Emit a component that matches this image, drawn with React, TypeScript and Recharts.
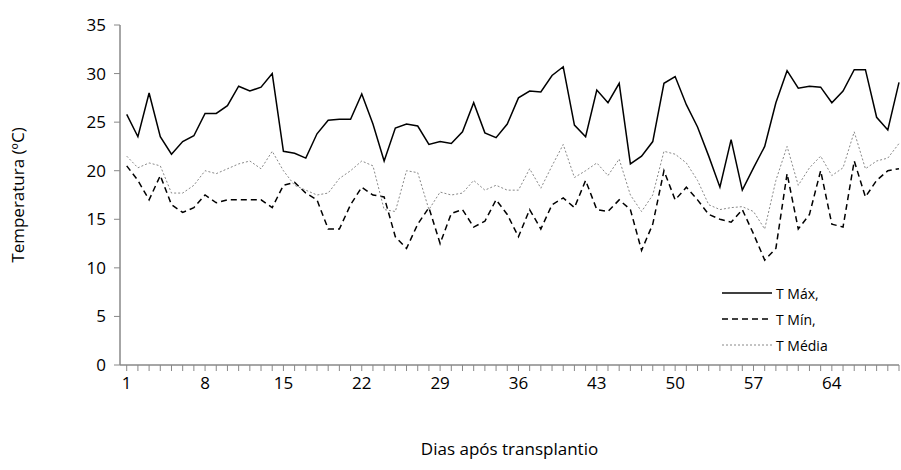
import React from 'react';
import { LineChart, Line, XAxis, YAxis, Label } from 'recharts';

const tMax = [25.8,23.5,28,23.5,21.7,23,23.6,25.9,25.9,26.7,
28.7,28.2,28.6,30,22,21.8,21.3,23.8,25.2,25.3,
25.3,27.9,24.8,21,24.4,24.8,24.6,22.7,23,22.8,
24,27,23.9,23.4,24.8,27.5,28.2,28.1,29.8,30.7,
24.7,23.5,28.3,27,29,20.7,21.5,23,29,29.7,
26.8,24.5,21.5,18.3,23.2,18,20.3,22.5,27,30.3,
28.5,28.7,28.6,27,28.2,30.4,30.4,25.5,24.2,29.1];
const tMin = [20.5,19,17,19.5,16.5,15.7,16.2,17.5,16.7,17,
17,17,17,16.2,18.5,18.8,17.7,17,14,14,
16.5,18.3,17.5,17.3,13.2,12,14.5,16.2,12.5,15.6,
16,14.2,14.8,17,15.5,13.2,16,14,16.5,17.2,
16.2,19,16,15.8,17,16,11.8,14.5,20,17,
18.3,17,15.5,15,14.7,16,13.5,10.8,12,19.7,
14,15.5,20,14.5,14.2,21,17.3,19,20,20.2];
const tMedia = [21.5,20.3,20.8,20.5,17.7,17.7,18.5,20,19.7,20.2,
20.7,21,20.2,22,20,18.5,18,17.5,17.7,19.2,
20,21,20.5,16,15.8,20,19.8,16,17.8,17.5,
17.7,19,18,18.5,18,18,20.2,18.2,20.5,22.7,
19.3,20,20.8,19.5,21.2,17.5,15.8,17.5,22,21.7,
20.8,19,16.5,16,16.2,16.3,15.8,14,19,22.5,
18.5,20.3,21.5,19.5,20.3,24,20.2,21,21.3,22.8];
const labeledDays = [1, 8, 15, 22, 29, 36, 43, 50, 57, 64];
const yTicks = [0, 5, 10, 15, 20, 25, 30, 35];

const data = tMax.map((v, i) => ({ day: i + 1, tMax: v, tMin: tMin[i], tMedia: tMedia[i] }));
const allDays = data.map(d => d.day);
const font = "'Open Sans', 'Liberation Sans', sans-serif";

const legendItems = [
  { name: 'T Máx,', dash: undefined, color: '#000', w: 1.5 },
  { name: 'T Mín,', dash: '6 4', color: '#000', w: 1.5 },
  { name: 'T Média', dash: '2 2', color: '#888', w: 1 },
];

export default function App() {
  return (
    <div style={{ position: 'absolute', left: 0, top: 0, width: 901, height: 470, background: '#fff', fontFamily: font }}>
      <LineChart width={901} height={470} data={data} margin={{ top: 25, right: 2, bottom: 65, left: 60 }}>
        <XAxis dataKey="day" type="number" domain={[0.4, 70]} ticks={allDays} interval={0}
          tickFormatter={(v: number) => (labeledDays.includes(v) ? String(v) : '')}
          axisLine={{ stroke: '#888', strokeWidth: 1.5 }} tickLine={{ stroke: '#888' }} tickSize={6}
          tick={{ fill: '#000', fontSize: 17, fontFamily: font }} height={40} tickMargin={6}>
          <Label value="Dias após transplantio" position="insideBottom" offset={-50} style={{ fill: '#000', fontSize: 17, fontFamily: font }} />
        </XAxis>
        <YAxis domain={[0, 35]} ticks={yTicks} interval={0} width={60}
          axisLine={{ stroke: '#888', strokeWidth: 1.5 }} tickLine={{ stroke: '#888' }} tickSize={6}
          tick={{ fill: '#000', fontSize: 17, fontFamily: font }} tickMargin={8}>
          <Label value="Temperatura (ºC)" angle={-90} position="insideLeft" offset={-42} dy={0}
            style={{ fill: '#000', fontSize: 17, fontFamily: font, textAnchor: 'middle' }} />
        </YAxis>
        <Line dataKey="tMax" stroke="#000" strokeWidth={1.5} dot={false} isAnimationActive={false} />
        <Line dataKey="tMin" stroke="#000" strokeWidth={1.5} strokeDasharray="6 4" dot={false} isAnimationActive={false} />
        <Line dataKey="tMedia" stroke="#888" strokeWidth={1} strokeDasharray="2 2" dot={false} isAnimationActive={false} />
      </LineChart>
      <div style={{ position: 'absolute', left: 722, top: 280 }}>
        {legendItems.map(it => (
          <div key={it.name} style={{ display: 'flex', alignItems: 'center', height: 26 }}>
            <svg width={50} height={6}><line x1={0} y1={3} x2={50} y2={3} stroke={it.color} strokeWidth={it.w} strokeDasharray={it.dash} /></svg>
            <span style={{ marginLeft: 4, fontSize: 14 }}>{it.name}</span>
          </div>
        ))}
      </div>
    </div>
  );
}
